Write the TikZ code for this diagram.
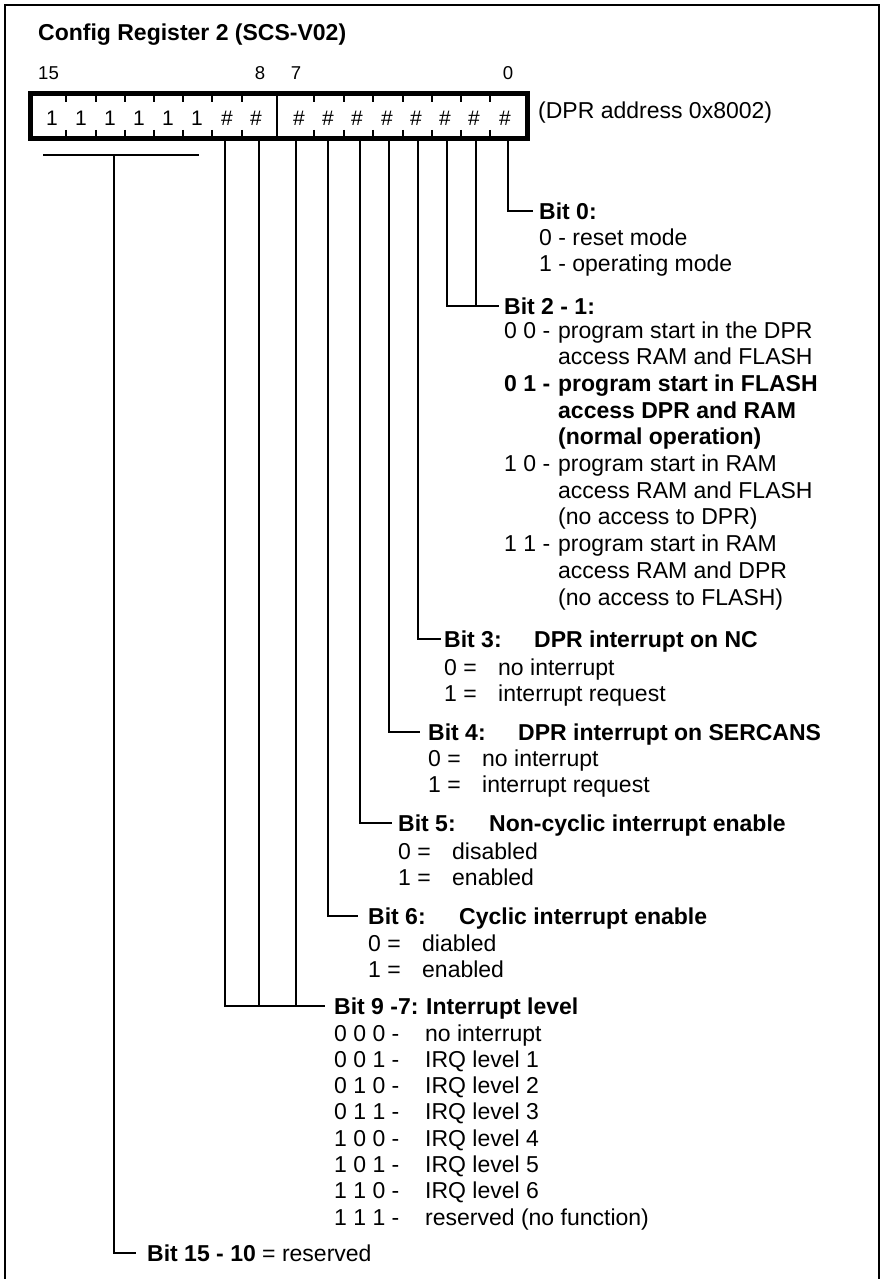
\documentclass[tikz,border=0pt]{standalone}
\usepackage{fontspec}
\setmainfont{Liberation Sans}
\newcommand\valcol[2][54pt]{\makebox[#1][l]{#2}}
\newcommand\rowlist[1]{\begin{tabular}[t]{@{}l@{}}#1\end{tabular}}
\begin{document}
\begin{tikzpicture}[x=1pt,y=-1pt,
  frame/.style={line width=2pt},
  wire/.style={line width=1.4pt, line join=miter},
  regbox/.style={draw, line width=5pt, inner sep=0pt},
  title/.style={font=\fontsize{23}{26}\selectfont\bfseries, inner sep=0pt, anchor=base west},
  bitno/.style={font=\fontsize{18.6}{20}\selectfont, inner sep=0pt, anchor=base},
  cell/.style={font=\fontsize{21}{22}\selectfont, inner sep=0pt, anchor=base},
  hdr/.style={font=\fontsize{23}{26.7}\selectfont\bfseries, inner ysep=0pt,
              text height=16.5pt, text depth=0pt, anchor=west},
  body/.style={font=\fontsize{23}{26.7}\selectfont, inner sep=0pt, anchor=base west},
]
\useasboundingbox (0,0) rectangle (880,1279);

% outer frame (open at the bottom edge of the page)
\draw[frame] (4.7,1300) -- (4.7,4.7) -- (878.7,4.7) -- (878.7,1300);

% heading and bit numbers
\node[title] (ttl) at (38,41) {Config Register 2 (SCS-V02)};
\node[bitno, anchor=base west] (n15) at (38,80) {15};
\node[bitno] (n8) at (260,80) {8};
\node[bitno] (n7) at (296,80) {7};
\node[bitno] (n0) at (508,80) {0};

% register word
\node[regbox, minimum width=497pt, minimum height=45pt] (reg) at (279,116) {};
\draw[wire] (277,93.5) -- (277,138.5);
\foreach \x in {66,96,125,154,183,212,242,314,344,373,403,432,461,490} {
  \draw[wire] (\x,93.5) -- (\x,102);
  \draw[wire] (\x,130) -- (\x,138.5);
}
\foreach \x/\b/\t in {52/15/1, 81/14/1, 110/13/1, 139/12/1, 168/11/1, 197/10/1,
                      227/9/\#, 256/8/\#, 299/7/\#, 328/6/\#, 357/5/\#, 387/4/\#,
                      416/3/\#, 445/2/\#, 474/1/\#, 505/0/\#}
  \node[cell] (b\b) at (\x,125) {\t};
\node[body] (addr) at (538,119) {(DPR address 0x8002)};

% taps below the register
\coordinate (t0) at (508,138.5);
\coordinate (t1) at (476,138.5);
\coordinate (t2) at (447,138.5);
\coordinate (t3) at (418,138.5);
\coordinate (t4) at (389,138.5);
\coordinate (t5) at (360,138.5);
\coordinate (t6) at (328,138.5);
\coordinate (t7) at (296,138.5);
\coordinate (t8) at (259,138.5);
\coordinate (t9) at (225,138.5);
\coordinate (brl) at (43,155);
\coordinate (brr) at (199,155);
\coordinate (t15) at (114,155);

% Bit 0
\node[hdr, inner xsep=6pt] (h0) at (533,211) {Bit 0:};
\node[body] (v0) at (539,245) {\rowlist{0 - reset mode\\1 - operating mode}};

% Bit 2 - 1
\node[hdr, inner xsep=5pt] (h21) at (499,306) {Bit 2 - 1:};
\node[body] (v21) at (504,338) {\rowlist{%
  \valcol{0 0 -}program start in the DPR\\
  \valcol{}access RAM and FLASH\\
  \textbf{\valcol{0 1 -}program start in FLASH}\\
  \textbf{\valcol{}access DPR and RAM}\\
  \textbf{\valcol{}(normal operation)}\\
  \valcol{1 0 -}program start in RAM\\
  \valcol{}access RAM and FLASH\\
  \valcol{}(no access to DPR)\\
  \valcol{1 1 -}program start in RAM\\
  \valcol{}access RAM and DPR\\
  \valcol{}(no access to FLASH)}};

% Bit 3
\node[hdr, inner xsep=3pt] (h3) at (441,639) {\valcol[90pt]{Bit 3:}DPR interrupt on NC};
\node[body] (v3) at (444,675) {\rowlist{\valcol{0 =}no interrupt\\\valcol{1 =}interrupt request}};

% Bit 4
\node[hdr, inner xsep=8pt] (h4) at (420,732) {\valcol[90pt]{Bit 4:}DPR interrupt on SERCANS};
\node[body] (v4) at (428,766) {\rowlist{\valcol{0 =}no interrupt\\\valcol{1 =}interrupt request}};

% Bit 5
\node[hdr, inner xsep=6pt] (h5) at (392,823) {\valcol[91pt]{Bit 5:}Non-cyclic interrupt enable};
\node[body] (v5) at (398,859) {\rowlist{\valcol{0 =}disabled\\\valcol{1 =}enabled}};

% Bit 6
\node[hdr, inner xsep=10pt] (h6) at (358,916) {\valcol[91pt]{Bit 6:}Cyclic interrupt enable};
\node[body] (v6) at (368,951) {\rowlist{\valcol{0 =}diabled\\\valcol{1 =}enabled}};

% Bit 9 - 7
\node[hdr, inner xsep=9pt] (h97) at (325,1006) {\valcol[92pt]{Bit 9 -7:}Interrupt level};
\node[body, font=\fontsize{23}{26.3}\selectfont] (v97) at (334,1041) {\rowlist{%
  \valcol[91pt]{0 0 0 -}no interrupt\\
  \valcol[91pt]{0 0 1 -}IRQ level 1\\
  \valcol[91pt]{0 1 0 -}IRQ level 2\\
  \valcol[91pt]{0 1 1 -}IRQ level 3\\
  \valcol[91pt]{1 0 0 -}IRQ level 4\\
  \valcol[91pt]{1 0 1 -}IRQ level 5\\
  \valcol[91pt]{1 1 0 -}IRQ level 6\\
  \valcol[91pt]{1 1 1 -}reserved (no function)}};

% Bit 15 - 10
\node[hdr, inner xsep=11pt] (h15) at (136,1253) {Bit 15 - 10 \mdseries= reserved};

% connectors
\draw[wire] (brl) -- (brr);
\draw[wire] (t15) |- (h15.west);
\draw[wire] (t0) |- (h0.west);
\draw[wire] (t2) |- (h21.west);
\draw[wire] (t1) |- (h21.west);
\draw[wire] (t3) |- (h3.west);
\draw[wire] (t4) |- (h4.west);
\draw[wire] (t5) |- (h5.west);
\draw[wire] (t6) |- (h6.west);
\draw[wire] (t9) |- (h97.west);
\draw[wire] (t8) |- (h97.west);
\draw[wire] (t7) |- (h97.west);
\end{tikzpicture}
\end{document}
